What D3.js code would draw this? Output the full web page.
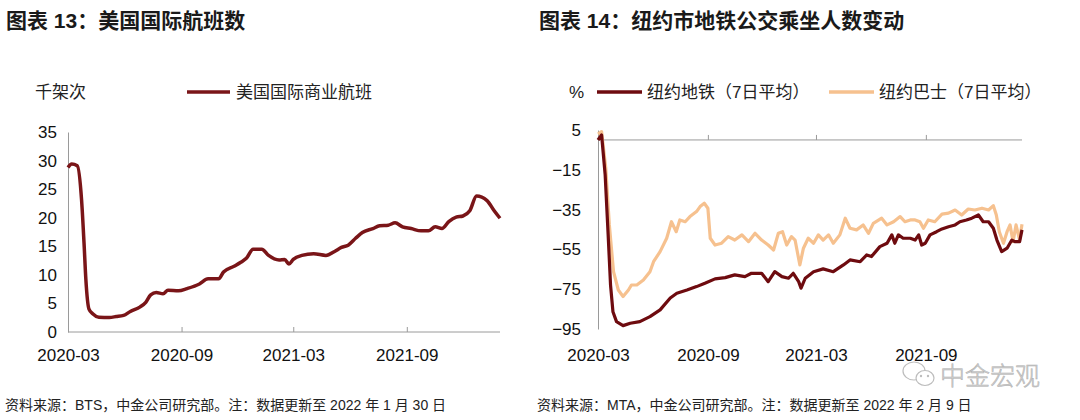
<!DOCTYPE html>
<html>
<head>
<meta charset="utf-8">
<script src="https://cdn.jsdelivr.net/npm/d3@7"></script>
<style>
  body { margin: 0; background: #fff; }
  svg text { font-family: "Liberation Sans", Arial, "Noto Sans CJK SC", sans-serif; }
</style>
</head>
<body>
<div id="chart"></div>
<script>
// 美国国际商业航班（千架次）
const flightDates = ['2020-03-01','2020-03-07','2020-03-16','2020-03-23','2020-03-27','2020-03-30',
  '2020-04-04','2020-04-10','2020-04-20','2020-05-07','2020-05-18','2020-05-30','2020-06-10','2020-06-26',
  '2020-07-05','2020-07-13','2020-07-22','2020-08-02','2020-08-10','2020-08-27','2020-09-10','2020-09-30',
  '2020-10-14','2020-10-31','2020-11-08','2020-11-25','2020-12-06','2020-12-15','2020-12-26',
  '2021-01-09','2021-01-20','2021-02-06','2021-02-15','2021-02-22','2021-03-01','2021-03-15',
  '2021-04-03','2021-04-23','2021-05-07','2021-05-18','2021-05-29','2021-06-10','2021-06-21',
  '2021-07-08','2021-07-19','2021-08-02','2021-08-13','2021-08-25','2021-09-08','2021-09-24',
  '2021-10-06','2021-10-17','2021-10-28','2021-11-08','2021-11-20','2021-12-01','2021-12-12',
  '2021-12-23','2022-01-09','2022-01-20','2022-01-30']
const flightValues = [28.8,29.4,29.1,23.1,15.5,9.1,4.0,3.2,2.6,2.55,2.7,2.9,3.6,4.4,5.2,6.5,6.9,6.7,7.3,7.2,
  7.6,8.4,9.3,9.3,10.5,11.5,12.2,12.9,14.5,14.5,13.4,12.6,12.7,11.9,12.7,13.4,13.7,13.4,14.1,14.8,15.2,
  16.4,17.4,18.1,18.6,18.7,19.1,18.4,18.1,17.7,17.7,18.4,18.1,19.3,20.1,20.3,21.2,23.8,23.0,21.3,19.9]

// 纽约地铁（7日平均，%）
const subwayDates = ['2020-03-01','2020-03-07','2020-03-13','2020-03-18','2020-03-22','2020-03-26',
  '2020-04-01','2020-04-12','2020-04-24','2020-05-10','2020-05-27','2020-06-13','2020-06-30','2020-07-11',
  '2020-07-28','2020-08-13','2020-08-27','2020-09-13','2020-09-30','2020-10-16','2020-11-02','2020-11-13',
  '2020-11-30','2020-12-11','2020-12-22','2021-01-03','2021-01-14','2021-01-22','2021-01-31','2021-02-04',
  '2021-02-11','2021-02-25','2021-03-13','2021-03-30','2021-04-16','2021-04-27','2021-05-14','2021-05-25',
  '2021-06-02','2021-06-16','2021-06-28','2021-07-06','2021-07-11','2021-07-17','2021-07-25','2021-08-06',
  '2021-08-14','2021-08-20','2021-08-25','2021-08-31','2021-09-08','2021-09-19','2021-09-28','2021-10-09',
  '2021-10-20','2021-10-28','2021-11-08','2021-11-17','2021-11-28','2021-12-06','2021-12-15','2021-12-23',
  '2021-12-29','2022-01-06','2022-01-15','2022-01-23','2022-01-28','2022-02-05','2022-02-09']
const subwayValues = [0,2.5,-17.6,-47.7,-72.9,-86.3,-91.3,-93.3,-92.1,-91.3,-88.8,-85.4,-79.4,-77,
  -75.4,-73.7,-72,-69.8,-69.2,-67.8,-68.7,-67,-67,-71.2,-66.2,-68.7,-69.5,-67,-71.2,-74.5,
  -69.5,-66.2,-64.8,-66.2,-62.8,-60.3,-61.2,-57.8,-58.6,-53.6,-51.9,-47.7,-51.9,-47.7,-49.4,-49.4,
  -50.3,-47.7,-52.8,-51.9,-47.7,-46.1,-44.7,-43.6,-42.7,-41.1,-40.2,-39.3,-37.7,-41.1,-41.1,-44.4,
  -50.3,-56.1,-54.4,-50.3,-51.1,-51.1,-45.2]

// 纽约巴士（7日平均，%）
const busDates = ['2020-03-01','2020-03-07','2020-03-14','2020-03-20','2020-03-27','2020-04-04',
  '2020-04-12','2020-04-21','2020-04-26','2020-05-05','2020-05-16','2020-05-27','2020-06-02','2020-06-13',
  '2020-06-24','2020-07-02','2020-07-10','2020-07-16','2020-07-25','2020-08-02','2020-08-13','2020-08-19',
  '2020-08-26','2020-09-01','2020-09-05','2020-09-13','2020-09-24','2020-10-05','2020-10-16','2020-10-28',
  '2020-11-08','2020-11-19','2020-11-30','2020-12-11','2020-12-20','2020-12-28','2021-01-04','2021-01-11',
  '2021-01-19','2021-01-25','2021-02-02','2021-02-08','2021-02-16','2021-02-25','2021-03-05','2021-03-13',
  '2021-03-22','2021-03-30','2021-04-10','2021-04-19','2021-04-27','2021-05-08','2021-05-19','2021-05-28',
  '2021-06-05','2021-06-19','2021-06-28','2021-07-09','2021-07-20','2021-07-28','2021-08-06','2021-08-14',
  '2021-08-22','2021-08-28','2021-09-05','2021-09-16','2021-09-28','2021-10-09','2021-10-20','2021-10-31',
  '2021-11-11','2021-11-22','2021-12-04','2021-12-15','2021-12-23','2021-12-28','2022-01-02','2022-01-09',
  '2022-01-15','2022-01-20','2022-01-25','2022-01-30','2022-02-05','2022-02-09']
const busValues = [3,4.2,-14.1,-42.7,-66.2,-75.4,-78.7,-75.4,-72.9,-72.9,-70.4,-66.2,-61.2,-56.1,
  -49.4,-41.1,-46.1,-40.2,-41.1,-38.5,-36,-33.5,-31.8,-34.3,-49.4,-52.8,-51.9,-48.6,-50.3,-47.7,
  -51.1,-46.9,-50.3,-52.8,-55.3,-46.9,-46.1,-52.8,-48.6,-50.3,-62.8,-54.4,-49.4,-51.9,-47.7,-50.3,
  -47.7,-51.9,-47.7,-39.3,-44.4,-45.2,-42.7,-46.9,-41.9,-39.3,-42.7,-41.1,-38.5,-41.1,-40.2,-40.2,
  -41.1,-44.4,-40.2,-41.1,-37.3,-36.8,-35.2,-37.7,-34.7,-35.2,-34.3,-35.2,-33,-37.7,-46.1,-51.9,
  -46.1,-42.7,-51.1,-42.7,-50.3,-42.4]

const xTickLabels = ['2020-03','2020-09','2021-03','2021-09']
const leftYTicks = [0,5,10,15,20,25,30,35]
const rightYTicks = [5,-15,-35,-55,-75,-95]

const parse = d3.timeParse('%Y-%m-%d')
const parseMonth = d3.timeParse('%Y-%m')
const fmtMonth = d3.timeFormat('%Y-%m')
const axisColor = '#9a9a9a'

let svg = d3.select('#chart').append('svg')
    .attr('width', 1080)
    .attr('height', 420)

// ---------- titles ----------
svg.append('text')
    .attr('x', 6).attr('y', 28)
    .text('图表 13：美国国际航班数')
    .style('font-size', '21px').style('font-weight', 'bold').attr('fill', '#1a1a1a')

svg.append('text')
    .attr('x', 539).attr('y', 28)
    .text('图表 14：纽约市地铁公交乘坐人数变动')
    .style('font-size', '21px').style('font-weight', 'bold').attr('fill', '#1a1a1a')

// ---------- left chart ----------
let flightData = flightDates.map((d, i) => ({ date: parse(d), value: flightValues[i] }))

let xLeft = d3.scaleTime()
    .domain([parse('2020-03-01'), parse('2022-01-30')])
    .range([68, 500])
let yLeft = d3.scaleLinear().domain([0, 35]).range([332, 132])

let left = svg.append('g').attr('id', 'left-chart')

left.append('text')
    .attr('x', 35).attr('y', 98)
    .text('千架次')
    .style('font-size', '17px').attr('fill', '#222')

left.append('line')
    .attr('x1', 187).attr('x2', 230).attr('y1', 92).attr('y2', 92)
    .style('stroke', '#7a1518').style('stroke-width', 3.5)
left.append('text')
    .attr('x', 236).attr('y', 98)
    .text('美国国际商业航班')
    .style('font-size', '17px').attr('fill', '#222')

let leftYAxis = left.append('g')
    .attr('transform', 'translate(68,0)')
    .call(d3.axisLeft(yLeft).tickValues(leftYTicks).tickSize(0).tickPadding(11))
leftYAxis.select('.domain').style('stroke', axisColor)

let leftXAxis = left.append('g')
    .attr('transform', 'translate(0,332)')
    .call(d3.axisTop(xLeft)
        .tickValues(xTickLabels.map(parseMonth))
        .tickSize(5)
        .tickFormat(''))
leftXAxis.select('.domain').style('stroke', axisColor).attr('d', 'M68,0H500')
leftXAxis.selectAll('.tick line').style('stroke', axisColor)

left.append('g')
    .attr('transform', 'translate(0,346)')
    .call(d3.axisBottom(xLeft).tickValues(xTickLabels.map(parseMonth)).tickSize(0).tickFormat(fmtMonth))
    .call(g => g.select('.domain').remove())

left.append('path')
    .datum(flightData)
    .attr('fill', 'none')
    .style('stroke', '#7a1518')
    .style('stroke-width', 3.5)
    .style('stroke-linejoin', 'round')
    .attr('d', d3.line().curve(d3.curveMonotoneX).x(d => xLeft(d.date)).y(d => yLeft(d.value)))

// ---------- right chart ----------
let subwayData = subwayDates.map((d, i) => ({ date: parse(d), value: subwayValues[i] }))
let busData = busDates.map((d, i) => ({ date: parse(d), value: busValues[i] }))

let xRight = d3.scaleTime()
    .domain([parse('2020-03-01'), parse('2022-02-09')])
    .range([598, 1022])
let yRight = d3.scaleLinear().domain([-95, 5]).range([329, 130])

let right = svg.append('g').attr('id', 'right-chart')

right.append('text')
    .attr('x', 569).attr('y', 98)
    .text('%')
    .style('font-size', '17px').attr('fill', '#222')

right.append('line')
    .attr('x1', 597).attr('x2', 642).attr('y1', 92).attr('y2', 92)
    .style('stroke', '#6e0b0f').style('stroke-width', 3.5)
right.append('text')
    .attr('x', 647).attr('y', 98)
    .text('纽约地铁（7日平均）')
    .style('font-size', '17px').attr('fill', '#222')

right.append('line')
    .attr('x1', 829).attr('x2', 874).attr('y1', 92).attr('y2', 92)
    .style('stroke', '#f6c18f').style('stroke-width', 3.5)
right.append('text')
    .attr('x', 879).attr('y', 98)
    .text('纽约巴士（7日平均）')
    .style('font-size', '17px').attr('fill', '#222')

let rightYAxis = right.append('g')
    .attr('transform', 'translate(598,0)')
    .call(d3.axisLeft(yRight).tickValues(rightYTicks).tickSize(0).tickPadding(17))
rightYAxis.select('.domain').style('stroke', axisColor)

let rightXAxis = right.append('g')
    .attr('transform', `translate(0,${yRight(0)})`)
    .call(d3.axisTop(xRight)
        .tickValues(xTickLabels.map(parseMonth))
        .tickSize(5)
        .tickFormat(''))
rightXAxis.select('.domain').style('stroke', axisColor).attr('d', 'M598,0H1022')
rightXAxis.selectAll('.tick line').style('stroke', axisColor)

right.append('g')
    .attr('transform', 'translate(0,346)')
    .call(d3.axisBottom(xRight).tickValues(xTickLabels.map(parseMonth)).tickSize(0).tickFormat(fmtMonth))
    .call(g => g.select('.domain').remove())

let lineRight = d3.line().x(d => xRight(d.date)).y(d => yRight(d.value))

right.append('path')
    .datum(busData)
    .attr('fill', 'none')
    .style('stroke', '#f6c18f')
    .style('stroke-width', 3.2)
    .style('stroke-linejoin', 'round')
    .attr('d', lineRight)

right.append('path')
    .datum(subwayData)
    .attr('fill', 'none')
    .style('stroke', '#6e0b0f')
    .style('stroke-width', 3.2)
    .style('stroke-linejoin', 'round')
    .attr('d', lineRight)

// tick label styling for both charts
svg.selectAll('.tick text')
    .style('font-size', '17px')
    .attr('fill', '#111')

// ---------- footers ----------
svg.append('text')
    .attr('x', 5).attr('y', 410)
    .text('资料来源：BTS，中金公司研究部。注：数据更新至 2022 年 1 月 30 日')
    .style('font-size', '14px').attr('fill', '#222')

svg.append('text')
    .attr('x', 537).attr('y', 410)
    .text('资料来源：MTA，中金公司研究部。注：数据更新至 2022 年 2 月 9 日')
    .style('font-size', '14px').attr('fill', '#222')

// ---------- watermark ----------
let wm = svg.append('g').attr('id', 'watermark')
wm.append('ellipse').attr('cx', 914).attr('cy', 371).attr('rx', 11).attr('ry', 9)
    .attr('fill', 'none').style('stroke', '#bdbdbd').style('stroke-width', 1.2)
wm.append('ellipse').attr('cx', 925).attr('cy', 378).attr('rx', 9).attr('ry', 7.5)
    .attr('fill', '#fff').style('stroke', '#bdbdbd').style('stroke-width', 1.2)
wm.append('circle').attr('cx', 921).attr('cy', 376).attr('r', 1.2).attr('fill', '#bdbdbd')
wm.append('circle').attr('cx', 928).attr('cy', 376).attr('r', 1.2).attr('fill', '#bdbdbd')
wm.append('text')
    .attr('x', 940).attr('y', 385)
    .text('中金宏观')
    .style('font-size', '25px')
    .style('font-weight', '300')
    .attr('fill', '#cfcfcf')
    .style('stroke', '#b0b0b0')
    .style('stroke-width', 0.5)
</script>
</body>
</html>
